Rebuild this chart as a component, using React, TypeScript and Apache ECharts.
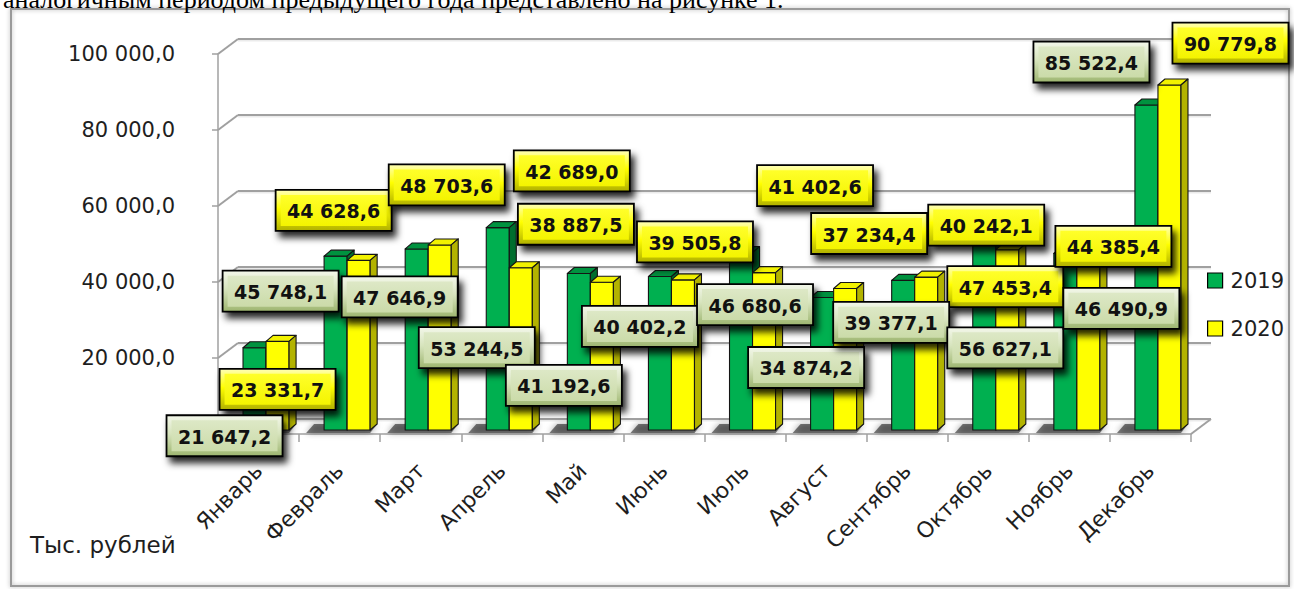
import React, { useEffect, useRef } from 'react';
import * as echarts from 'echarts';

// ---------- data ----------
const months = ['Январь', 'Февраль', 'Март', 'Апрель', 'Май', 'Июнь', 'Июль', 'Август', 'Сентябрь', 'Октябрь', 'Ноябрь', 'Декабрь'];
const values2019 = [21647.2, 45748.1, 47646.9, 53244.5, 41192.6, 40402.2, 46680.6, 34874.2, 39377.1, 56627.1, 46490.9, 85522.4];
const values2020 = [23331.7, 44628.6, 48703.6, 42689.0, 38887.5, 39505.8, 41402.6, 37234.4, 40242.1, 47453.4, 44385.4, 90779.8];
const seriesNames = ['2019', '2020'];
const yTickValues = [0, 20000, 40000, 60000, 80000, 100000];
const unitLabel = 'Тыс. рублей';
const captionText = 'аналогичным периодом предыдущего года представлено на рисунке 1.';

// ---------- styles / layout ----------
const GRID_LEFT = 218;
const GRID_TOP = 54;
const GRID_W = 973;
const GRID_H = 380;
const DEPTH_X = 20;
const DEPTH_Y = -15;
const BAR_RATIO = 0.284;
const FRONT_DX = 7.5;
const FRONT_DY = -4;
const BAR_DX = 7;
const BAR_DY = -6;
const LABEL_W = 116;
const LABEL_H = 41;
const GRID_COLOR = '#A0A0A0';
const FONT = 'DejaVu Sans';

// label displacement from the top of its bar (pixels)
const labelShift2019 = [[-30, 88], [-55, 35], [-17, 48], [-21, 120], [-15, 112], [-20, 50], [14, 52], [-16, 70], [-12, 42], [21, 133], [56, 55], [-55, -43]];
const labelShift2020 = [[0, 48], [-25, -50], [7, -60], [51, -97], [-26, -58], [12, -38], [51, -87], [24, -55], [60, -52], [-2, 37], [25, -15], [61, -42]];

const palette = [
  { front: '#00B050', top: '#00923F', side: '#006E2E' },
  { front: '#FFFF00', top: '#F2F200', side: '#B3B300' },
];

function fmt(v: number): string {
  const parts = v.toFixed(1).split('.');
  const grouped = parts[0].replace(/\B(?=(\d{3})+(?!\d))/g, '\u00A0');
  return grouped + ',' + parts[1];
}

function barRender(sIdx: number) {
  const col = palette[sIdx];
  return (params: any, api: any) => {
    const i = api.value(0);
    const v = api.value(1);
    const top = api.coord([i, v]);
    const base = api.coord([i, 0]);
    const band = api.size([1, 0])[0];
    const w = band * BAR_RATIO;
    const x0 = top[0] + FRONT_DX - (sIdx === 0 ? w : 0);
    const x1 = x0 + w;
    const yt = top[1] + FRONT_DY;
    const yb = base[1] + FRONT_DY;
    const stroke = { stroke: '#151515', lineWidth: 1.1, lineJoin: 'round' };
    const children: any[] = [];
    if (sIdx === 0) {
      children.push({
        type: 'polygon',
        shape: { points: [[x0 - 18, yb + 3], [x0 + 2 * w, yb + 3], [x0 + 2 * w + BAR_DX, yb + BAR_DY], [x0 - 10, yb + BAR_DY]] },
        style: { fill: 'rgba(0,0,0,0.5)', shadowBlur: 6, shadowColor: 'rgba(0,0,0,0.7)' },
      });
    }
    children.push(
      { type: 'rect', shape: { x: x0, y: yt, width: w, height: yb - yt }, style: { fill: col.front, ...stroke } },
      { type: 'polygon', shape: { points: [[x0, yt], [x1, yt], [x1 + BAR_DX, yt + BAR_DY], [x0 + BAR_DX, yt + BAR_DY]] }, style: { fill: col.top, ...stroke } },
      { type: 'polygon', shape: { points: [[x1, yt], [x1 + BAR_DX, yt + BAR_DY], [x1 + BAR_DX, yb + BAR_DY], [x1, yb]] }, style: { fill: col.side, ...stroke } },
    );
    return { type: 'group', children };
  };
}

function labelRender(sIdx: number, shifts: number[][]) {
  const outer = sIdx === 0
    ? [{ offset: 0, color: '#F3F7EA' }, { offset: 0.45, color: '#D7E4BD' }, { offset: 1, color: '#9DB56F' }]
    : [{ offset: 0, color: '#FFFFB8' }, { offset: 0.45, color: '#FFFF00' }, { offset: 1, color: '#B0B000' }];
  const inner = sIdx === 0
    ? [{ offset: 0, color: '#DDE8C6' }, { offset: 1, color: '#CBDBA9' }]
    : [{ offset: 0, color: '#FFFF2A' }, { offset: 1, color: '#F4F400' }];
  return (params: any, api: any) => {
    const i = api.value(0);
    const v = api.value(1);
    const top = api.coord([i, v]);
    const band = api.size([1, 0])[0];
    const w = band * BAR_RATIO;
    const cx = top[0] + FRONT_DX + (sIdx === 0 ? -w / 2 : w / 2);
    const cy = top[1] + FRONT_DY;
    const s = shifts[params.dataIndex];
    return {
      type: 'group',
      x: cx + s[0],
      y: cy + s[1],
      children: [
        {
          type: 'rect',
          shape: { x: -LABEL_W / 2, y: -LABEL_H / 2, width: LABEL_W, height: LABEL_H },
          style: {
            fill: new echarts.graphic.LinearGradient(0, 0, 0, 1, outer),
            stroke: '#000', lineWidth: 1.8,
            shadowBlur: 7, shadowOffsetX: 4, shadowOffsetY: 6, shadowColor: 'rgba(0,0,0,0.85)',
          },
        },
        {
          type: 'rect',
          shape: { x: -LABEL_W / 2 + 5, y: -LABEL_H / 2 + 5, width: LABEL_W - 10, height: LABEL_H - 10 },
          style: { fill: new echarts.graphic.LinearGradient(0, 0, 0, 1, inner) },
        },
        {
          type: 'text',
          x: 0,
          y: 1,
          style: {
            text: fmt(v), align: 'center', verticalAlign: 'middle',
            fontFamily: FONT, fontWeight: 'bold', fontSize: 19, fill: '#111',
          },
        },
      ],
    };
  };
}

// side wall slants, back-wall gridlines and floor edge, all placed from the value scale
function wallRender(params: any, api: any) {
  const v = api.value(1);
  const p = api.coord([0, v]);
  const cs = params.coordSys;
  const st = { stroke: GRID_COLOR, lineWidth: 2 };
  const yBack = p[1] + DEPTH_Y;
  const children: any[] = [
    { type: 'line', shape: { x1: cs.x, y1: p[1], x2: cs.x + DEPTH_X, y2: yBack }, style: st },
    { type: 'line', shape: { x1: cs.x + DEPTH_X, y1: yBack + 1.5, x2: cs.x + cs.width + DEPTH_X, y2: yBack + 1.5 }, style: { stroke: 'rgba(0,0,0,0.08)', lineWidth: 2 } },
    { type: 'line', shape: { x1: cs.x + DEPTH_X, y1: yBack, x2: cs.x + cs.width + DEPTH_X, y2: yBack }, style: st },
  ];
  if (v === 0) {
    children.push({ type: 'line', shape: { x1: cs.x + cs.width, y1: p[1], x2: cs.x + cs.width + DEPTH_X, y2: yBack }, style: st });
  }
  return { type: 'group', children };
}

export default function App() {
  const ref = useRef<HTMLDivElement>(null);
  useEffect(() => {
    document.body.style.margin = '0';
    document.body.style.overflow = 'hidden';
    if (!ref.current) return;
    const chart = echarts.init(ref.current, null, { renderer: 'svg' });
    const option: any = {
      animation: false,
      backgroundColor: '#ffffff',
      textStyle: { fontFamily: FONT },
      grid: [{ left: GRID_LEFT, top: GRID_TOP, width: GRID_W, height: GRID_H }],
      xAxis: [
        {
          type: 'category', data: months, boundaryGap: true,
          axisLine: { show: true, lineStyle: { color: GRID_COLOR, width: 1.5 } },
          axisTick: { show: true, interval: 0, length: 8, lineStyle: { color: GRID_COLOR, width: 1.5 } },
          axisLabel: { interval: 0, rotate: 45, margin: 33, fontFamily: FONT, fontSize: 22, color: '#1e1e1e' },
          splitLine: { show: false },
        },
      ],
      yAxis: [
        {
          type: 'value', min: 0, max: 100000, interval: 20000,
          axisLine: { show: true, lineStyle: { color: GRID_COLOR, width: 1.5 } },
          axisTick: { show: true, length: 6, lineStyle: { color: GRID_COLOR, width: 1.5 } },
          axisLabel: {
            margin: 43, fontFamily: FONT, fontSize: 21, color: '#1e1e1e',
            formatter: (v: number) => (v === 0 ? '' : fmt(v)),
          },
          splitLine: { show: false },
        },
      ],
      legend: {
        data: seriesNames,
        orient: 'vertical',
        left: 1202,
        top: 265,
        itemWidth: 15,
        itemHeight: 15,
        itemGap: 27,
        icon: 'rect',
        itemStyle: { borderColor: '#000', borderWidth: 1.2 },
        textStyle: { fontFamily: FONT, fontSize: 21, lineHeight: 21, color: '#1e1e1e', padding: [0, 0, 0, 3] },
      },
      graphic: [
        {
          type: 'rect', silent: true,
          shape: { x: 11, y: 9, width: 1278, height: 577 },
          style: { fill: 'none', stroke: '#9A9A9A', lineWidth: 2, shadowBlur: 4, shadowColor: 'rgba(0,0,0,0.3)' },
        },
        {
          type: 'text', x: 3, y: 12, silent: true,
          style: { text: captionText, fontFamily: 'Liberation Serif', fontSize: 26, fill: '#000', verticalAlign: 'bottom' },
        },
        {
          type: 'text', x: 30, y: 545, silent: true,
          style: { text: unitLabel, fontFamily: FONT, fontSize: 23, fill: '#1e1e1e', verticalAlign: 'middle' },
        },
      ],
      series: [
        {
          type: 'custom', name: 'walls', silent: true, z: 1,
          data: yTickValues.map((v) => [0, v]), renderItem: wallRender, clip: false,
        },
        {
          type: 'custom', name: seriesNames[0], z: 2, clip: false,
          itemStyle: { color: palette[0].front },
          data: values2019.map((v, i) => [i, v]), renderItem: barRender(0),
        },
        {
          type: 'custom', name: seriesNames[1], z: 3, clip: false,
          itemStyle: { color: palette[1].front },
          data: values2020.map((v, i) => [i, v]), renderItem: barRender(1),
        },
        {
          type: 'custom', name: 'labels2020', z: 10, clip: false,
          data: values2020.map((v, i) => [i, v]), renderItem: labelRender(1, labelShift2020),
        },
        {
          type: 'custom', name: 'labels2019', z: 11, clip: false,
          data: values2019.map((v, i) => [i, v]), renderItem: labelRender(0, labelShift2019),
        },
      ],
    };
    chart.setOption(option);
    return () => chart.dispose();
  }, []);
  return <div ref={ref} style={{ width: 1294, height: 589 }} />;
}
